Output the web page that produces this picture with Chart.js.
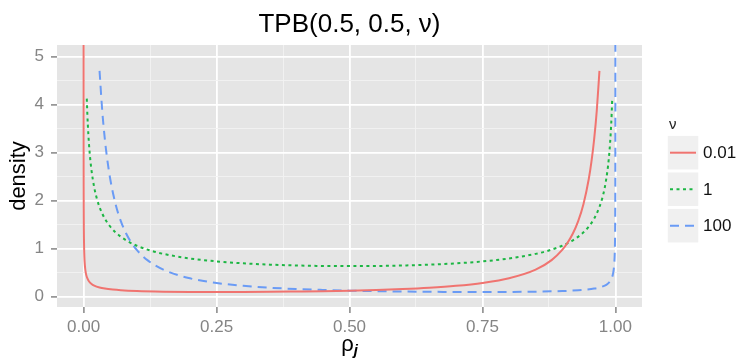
<!DOCTYPE html>
<html>
<head>
<meta charset="utf-8">
<script src="https://cdn.jsdelivr.net/npm/chart.js@4.4.1/dist/chart.umd.min.js"></script>
<style>
  html, body { margin: 0; padding: 0; background: #fff; }
  #wrap { width: 738px; height: 358px; }
</style>
</head>
<body>
<div id="wrap"><canvas id="tpbChart"></canvas></div>
<script>
// TPB(0.5, 0.5, nu) densities for three values of nu
const nuLabels = ["0.01", "1", "100"];
const lineColors = ["#F07470", "#1DB644", "#6A9BF5"];

const redX = [0.00002,0.00004,0.00007,0.0001,0.0002,0.0003,0.0005,0.0007,0.001,0.0015,0.002,0.003,0.004,0.005,0.007,0.01,0.015,0.02,0.03,0.04,0.055,0.07,0.1,0.15,0.2,0.25,0.3,0.35,0.4,0.45,0.5,0.55,0.6,0.65,0.7,0.75,0.8,0.85,0.88,0.9,0.91,0.92,0.93,0.94,0.95,0.955,0.96,0.965,0.97];
const redY = [7.12,5.03,3.81,3.18,2.25,1.84,1.42,1.20,1.01,0.824,0.714,0.584,0.506,0.454,0.385,0.323,0.266,0.232,0.192,0.169,0.148,0.134,0.118,0.105,0.099,0.098,0.099,0.102,0.108,0.115,0.126,0.141,0.160,0.187,0.226,0.286,0.383,0.562,0.761,0.973,1.122,1.315,1.573,1.931,2.455,2.815,3.274,3.879,4.70];

const greenX = [0.006,0.007,0.008,0.01,0.0125,0.015,0.02,0.025,0.03,0.04,0.05,0.06,0.08,0.1,0.125,0.15,0.2,0.25,0.3,0.35,0.4,0.45,0.5,0.55,0.6,0.65,0.7,0.75,0.8,0.85,0.875,0.9,0.92,0.94,0.95,0.96,0.97,0.975,0.98,0.985,0.9875,0.99,0.992,0.993,0.994];
const greenY = [4.122,3.818,3.573,3.199,2.865,2.619,2.274,2.039,1.866,1.624,1.461,1.340,1.173,1.061,0.9625,0.8914,0.7958,0.7351,0.6946,0.6673,0.6497,0.6398,0.6366,0.6398,0.6497,0.6673,0.6946,0.7351,0.7958,0.8914,0.9625,1.061,1.173,1.340,1.461,1.624,1.866,2.039,2.274,2.619,2.865,3.199,3.573,3.818,4.122];

const blueX = [0.03,0.035,0.04,0.045,0.05,0.06,0.07,0.08,0.09,0.1,0.12,0.15,0.2,0.25,0.3,0.35,0.4,0.45,0.5,0.55,0.6,0.65,0.7,0.75,0.8,0.85,0.9,0.93,0.945,0.96,0.97,0.98,0.985,0.99,0.993,0.995,0.996,0.997,0.998,0.9985,0.999,0.9993,0.9995,0.9997,0.9998,0.9999,0.99993,0.99996,0.99998];
const blueY = [4.70,3.879,3.274,2.815,2.455,1.931,1.573,1.315,1.122,0.973,0.761,0.562,0.383,0.286,0.226,0.187,0.160,0.141,0.126,0.115,0.108,0.102,0.099,0.098,0.099,0.105,0.118,0.134,0.148,0.169,0.192,0.232,0.266,0.323,0.385,0.454,0.506,0.584,0.714,0.824,1.01,1.20,1.42,1.84,2.25,3.18,3.81,5.03,7.12];

const xTicks = [0, 0.125, 0.25, 0.375, 0.5, 0.625, 0.75, 0.875, 1];
const yTicks = [0, 0.5, 1, 1.5, 2, 2.5, 3, 3.5, 4, 4.5, 5];
const xMajor = [0, 0.25, 0.5, 0.75, 1];

const FONT = "'Liberation Sans', Arial, Helvetica, sans-serif";

function pts(xs, ys) {
  return xs.map((x, i) => ({ x: x, y: ys[i] }));
}

const dashes = [[], [3, 3.5], [9, 6]];
const series = [pts(redX, redY), pts(greenX, greenY), pts(blueX, blueY)];

// grey panel behind the grid
const panelBg = {
  id: "panelBg",
  beforeDraw(chart) {
    const { ctx, chartArea: a } = chart;
    ctx.save();
    ctx.fillStyle = "#E5E5E5";
    ctx.fillRect(a.left, a.top, a.right - a.left, a.bottom - a.top);
    ctx.restore();
  }
};

// title, axis titles and the nu legend
const decorations = {
  id: "decorations",
  afterDraw(chart) {
    const { ctx, chartArea: a } = chart;
    const cx = (a.left + a.right) / 2;
    ctx.save();
    ctx.fillStyle = "#000";

    ctx.font = "26px " + FONT;
    ctx.textAlign = "center";
    ctx.textBaseline = "alphabetic";
    ctx.fillText("TPB(0.5, 0.5, \u03bd)", cx, 32);

    // x title: rho with a bold italic j subscript
    ctx.font = "22px " + FONT;
    const wRho = ctx.measureText("\u03c1").width;
    ctx.font = "bold italic 15px " + FONT;
    const wJ = ctx.measureText("j").width;
    let sx = cx - (wRho + wJ) / 2;
    ctx.textAlign = "left";
    ctx.font = "22px " + FONT;
    ctx.fillText("\u03c1", sx, 351);
    ctx.font = "bold italic 15px " + FONT;
    ctx.fillText("j", sx + wRho, 355);

    // y title
    ctx.save();
    ctx.translate(19, (a.top + a.bottom) / 2);
    ctx.rotate(-Math.PI / 2);
    ctx.font = "22px " + FONT;
    ctx.textAlign = "center";
    ctx.textBaseline = "middle";
    ctx.fillText("density", 0, 0);
    ctx.restore();

    // legend
    ctx.font = "15px " + FONT;
    ctx.textAlign = "left";
    ctx.textBaseline = "middle";
    ctx.fillStyle = "#222";
    ctx.fillText("\u03bd", 669, 125);
    chart.data.datasets.forEach((ds, i) => {
      const yc = 152.7 + i * 36.5;
      ctx.fillStyle = "#F0F0F0";
      ctx.fillRect(667, yc - 17.5, 32, 35);
      ctx.strokeStyle = "#FFFFFF";
      ctx.lineWidth = 1.5;
      ctx.strokeRect(667, yc - 17.5, 32, 35);
      ctx.beginPath();
      ctx.setLineDash(ds.borderDash || []);
      ctx.strokeStyle = ds.borderColor;
      ctx.lineWidth = ds.borderWidth;
      ctx.moveTo(670, yc);
      ctx.lineTo(696, yc);
      ctx.stroke();
      ctx.setLineDash([]);
      ctx.fillStyle = "#111";
      ctx.font = "17px " + FONT;
      ctx.fillText(ds.label, 703, yc + 1);
    });
    ctx.restore();
  }
};

new Chart(document.getElementById("tpbChart"), {
  type: "line",
  data: {
    datasets: nuLabels.map((lab, i) => ({
      label: lab,
      data: series[i],
      borderColor: lineColors[i],
      borderWidth: 2,
      borderDash: dashes[i],
      pointRadius: 0,
      fill: false,
      cubicInterpolationMode: "monotone",
      clip: 0
    }))
  },
  options: {
    responsive: true,
    maintainAspectRatio: false,
    animation: false,
    events: [],
    layout: { padding: { top: 45, right: 96, left: 0, bottom: 0 } },
    plugins: {
      legend: { display: false },
      title: { display: false },
      tooltip: { enabled: false }
    },
    scales: {
      x: {
        type: "linear",
        min: -0.05,
        max: 1.05,
        afterBuildTicks: s => { s.ticks = xTicks.map(v => ({ value: v })); },
        afterFit: s => { s.height = 51; },
        border: { display: false },
        grid: {
          color: c => xMajor.includes(c.tick.value) ? "#FFFFFF" : "#F2F2F2",
          lineWidth: c => xMajor.includes(c.tick.value) ? 1.8 : 0.9,
          tickColor: c => xMajor.includes(c.tick.value) ? "#858585" : "rgba(0,0,0,0)",
          tickLength: 6,
          tickWidth: 1.5
        },
        ticks: {
          autoSkip: false,
          maxRotation: 0,
          padding: 4,
          color: "#858585",
          font: { family: FONT, size: 17 },
          callback: v => xMajor.includes(v) ? v.toFixed(2) : ""
        }
      },
      y: {
        type: "linear",
        min: -0.214,
        max: 5.238,
        afterBuildTicks: s => { s.ticks = yTicks.map(v => ({ value: v })); },
        afterFit: s => { s.width = 57; },
        border: { display: false },
        grid: {
          color: c => Number.isInteger(c.tick.value) ? "#FFFFFF" : "#F2F2F2",
          lineWidth: c => Number.isInteger(c.tick.value) ? 1.8 : 0.9,
          tickColor: c => Number.isInteger(c.tick.value) ? "#858585" : "rgba(0,0,0,0)",
          tickLength: 6,
          tickWidth: 1.5
        },
        ticks: {
          autoSkip: false,
          padding: 7,
          color: "#858585",
          font: { family: FONT, size: 17 },
          callback: v => Number.isInteger(v) ? String(v) : ""
        }
      }
    }
  },
  plugins: [panelBg, decorations]
});
</script>
</body>
</html>
